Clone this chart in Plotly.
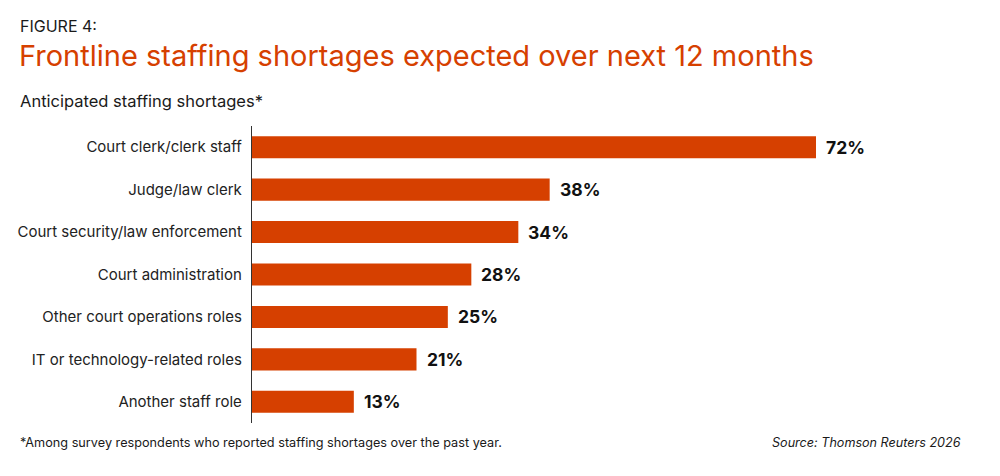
import plotly.graph_objects as go

categories = [
    "Court clerk/clerk staff",
    "Judge/law clerk",
    "Court security/law enforcement",
    "Court administration",
    "Other court operations roles",
    "IT or technology-related roles",
    "Another staff role",
]
values = [72, 38, 34, 28, 25, 21, 13]
value_labels = [f"{v}%" for v in values]

ORANGE = "#D64000"
FONT = "Inter"

fig = go.Figure()
fig.add_trace(go.Bar(
    x=values, y=categories, orientation="h",
    marker=dict(color=ORANGE, line=dict(width=0)),
    width=0.52,
    hoverinfo="skip",
))

for c, v, t in zip(categories, values, value_labels):
    fig.add_annotation(x=v, y=c, xref="x", yref="y", text=f"<b>{t}</b>",
                       xanchor="left", yanchor="middle", xshift=8, showarrow=False,
                       font=dict(family=FONT, size=17.5, color="#111111"))

W = 705
fig.update_layout(
    width=1000, height=476,
    margin=dict(l=252, r=1000 - 252 - W, t=126, b=53, autoexpand=False),
    paper_bgcolor="white", plot_bgcolor="white",
    showlegend=False,
    bargap=0.48,
    font=dict(family=FONT, color="#222222"),
    xaxis=dict(range=[0, 90], visible=False, fixedrange=True),
    yaxis=dict(
        autorange="reversed", showline=True, linecolor="#333333", linewidth=1.2,
        ticks="", showgrid=False, zeroline=False, fixedrange=True,
        tickfont=dict(family=FONT, size=15, color="#222222"),
        ticklabelstandoff=6,
    ),
)

annos = [
    dict(text="FIGURE 4:", x=18, y=26, size=16, color="#1a1a1a", anchor="left"),
    dict(text="Frontline staffing shortages expected over next 12 months", x=17, y=56, size=29, color=ORANGE, anchor="left"),
    dict(text="Anticipated staffing shortages*", x=18, y=101, size=16.5, color="#1a1a1a", anchor="left"),
    dict(text="*Among survey respondents who reported staffing shortages over the past year.", x=18, y=442, size=12.7, color="#1a1a1a", anchor="left"),
    dict(text="<i>Source: Thomson Reuters 2026</i>", x=963, y=442, size=12.6, color="#1a1a1a", anchor="right"),
]
for a in annos:
    fig.add_annotation(
        text=a["text"], xref="paper", yref="paper",
        x=(a["x"] - 252) / W, y=(476 - 53 - a["y"]) / (476 - 126 - 53),
        xanchor=a["anchor"], yanchor="middle", showarrow=False,
        font=dict(family=FONT, size=a["size"], color=a["color"]),
    )

fig.write_html("out.html", config={"displayModeBar": False, "staticPlot": True},
               post_script="document.body.style.margin='0';document.body.style.overflow='hidden';")
